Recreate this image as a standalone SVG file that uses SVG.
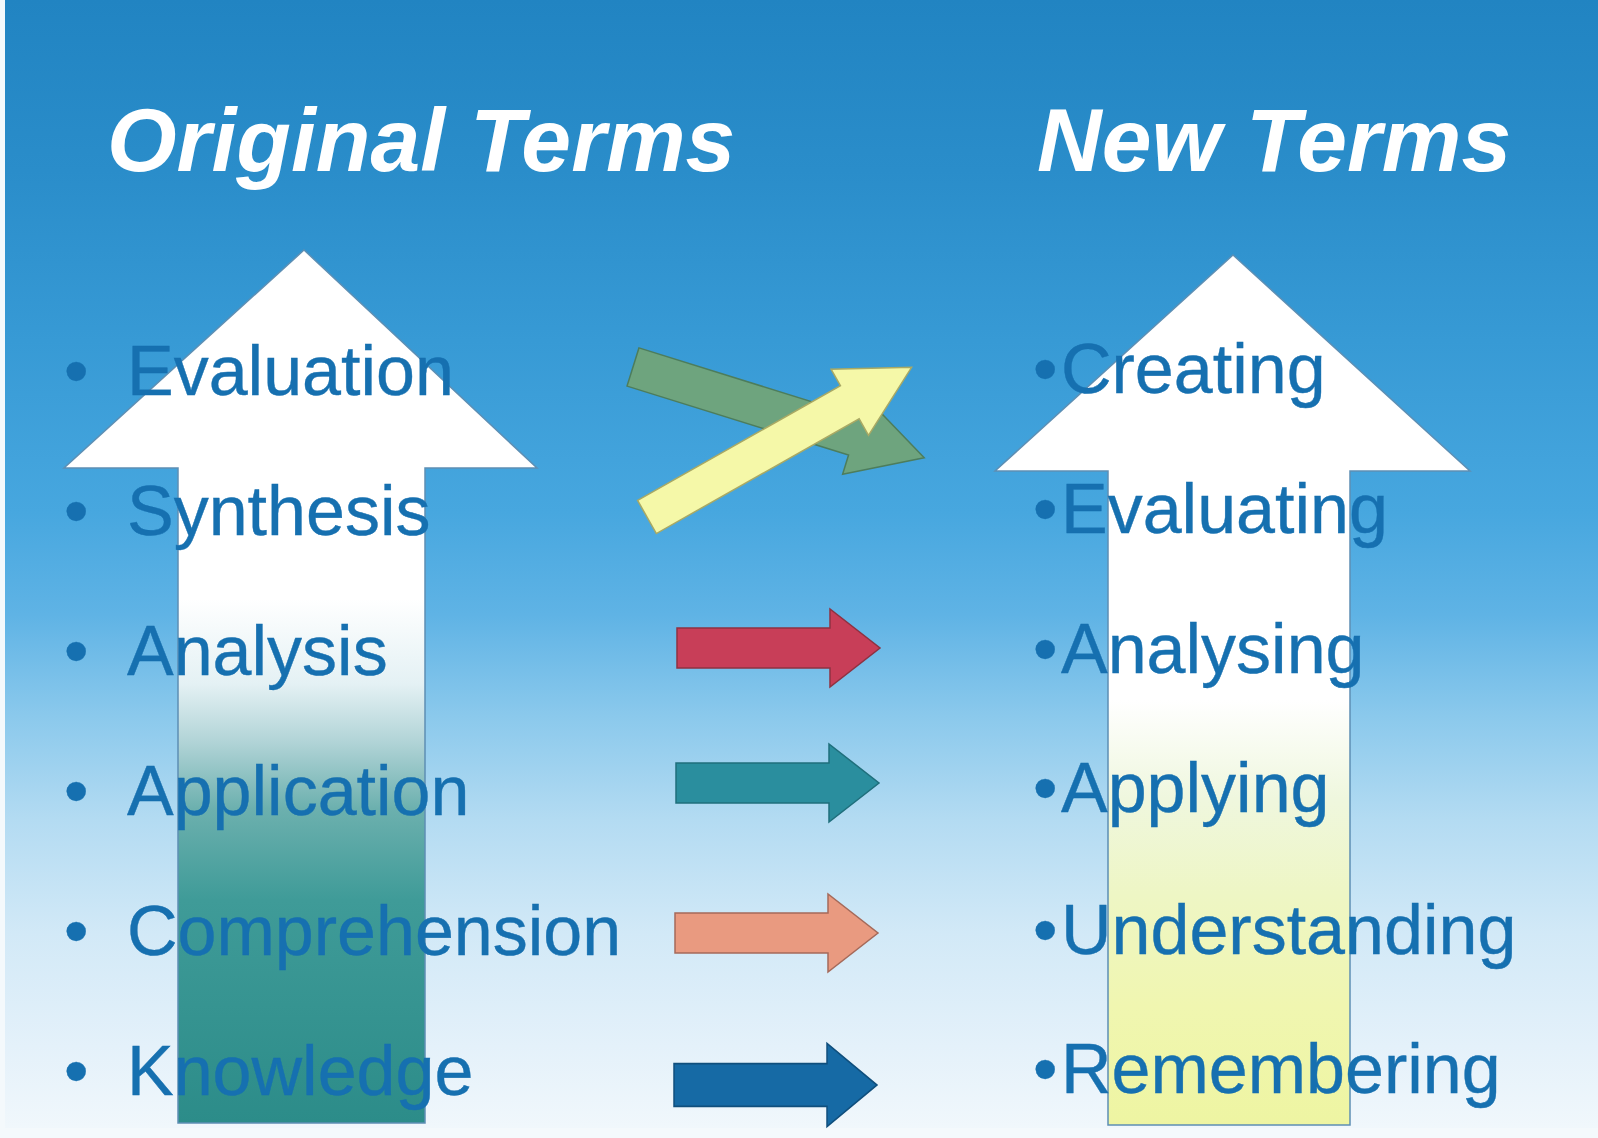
<svg xmlns="http://www.w3.org/2000/svg" width="1598" height="1138" viewBox="0 0 1598 1138">
  <defs>
    <linearGradient id="bg" x1="0" y1="0" x2="0" y2="1138" gradientUnits="userSpaceOnUse">
      <stop offset="0" stop-color="#2184c2"/>
      <stop offset="0.15" stop-color="#2a8dca"/>
      <stop offset="0.3" stop-color="#379ad5"/>
      <stop offset="0.45" stop-color="#47a7df"/>
      <stop offset="0.54" stop-color="#5fb3e5"/>
      <stop offset="0.63" stop-color="#8bc9ec"/>
      <stop offset="0.72" stop-color="#b3dbf2"/>
      <stop offset="0.82" stop-color="#d2e9f7"/>
      <stop offset="0.92" stop-color="#e4f1fa"/>
      <stop offset="1" stop-color="#f2f8fc"/>
    </linearGradient>
    <linearGradient id="leftShaft" x1="0" y1="468" x2="0" y2="1123" gradientUnits="userSpaceOnUse">
      <stop offset="0" stop-color="#ffffff"/>
      <stop offset="0.2" stop-color="#ffffff"/>
      <stop offset="0.33" stop-color="#e4f1f4"/>
      <stop offset="0.42" stop-color="#b0d3d6"/>
      <stop offset="0.52" stop-color="#6cb0ae"/>
      <stop offset="0.66" stop-color="#3f9b98"/>
      <stop offset="1" stop-color="#2c8c89"/>
    </linearGradient>
    <linearGradient id="rightShaft" x1="0" y1="471" x2="0" y2="1125" gradientUnits="userSpaceOnUse">
      <stop offset="0" stop-color="#ffffff"/>
      <stop offset="0.35" stop-color="#ffffff"/>
      <stop offset="0.5" stop-color="#eff7de"/>
      <stop offset="0.65" stop-color="#eef6c4"/>
      <stop offset="0.82" stop-color="#f0f6b0"/>
      <stop offset="1" stop-color="#eef5a2"/>
    </linearGradient>
    <path id="hArrow" d="M0,-20 H153 V-39 L203,0 L153,39 V20 H0 Z"/>
  </defs>
  <style>
    .title { font-family: "Liberation Sans", Arial, sans-serif; font-weight: bold; font-style: italic; font-size: 89.5px; fill: #ffffff; }
    .term { font-family: "Liberation Sans", Arial, sans-serif; font-size: 70px; fill: #1670b0; stroke: #1670b0; stroke-width: 0.4; }
    .big { stroke: #5d8fb4; stroke-width: 1.5; stroke-linejoin: miter; }
    .conn { stroke-width: 1.5; stroke-linejoin: miter; }
  </style>

  <g id="background">
    <rect x="0" y="0" width="1598" height="1138" fill="url(#bg)"/>
    <rect x="0" y="0" width="5" height="1138" fill="#f4f9fc"/>
    <rect x="0" y="1128" width="1598" height="10" fill="#f4f9fc"/>
  </g>

  <g id="left-big-arrow">
    <path class="big" fill="url(#leftShaft)" d="M304,250 L537,468 L425,468 L425,1123 L178,1123 L178,468 L64,468 Z"/>
  </g>
  <g id="right-big-arrow">
    <path class="big" fill="url(#rightShaft)" d="M1233,255 L1470,471 L1350,471 L1350,1125 L1108,1125 L1108,471 L995,471 Z"/>
  </g>

  <g id="titles">
    <text id="title-original" class="title" x="107" y="171">Original Terms</text>
    <text id="title-new" class="title" x="1037" y="171">New Terms</text>
  </g>

  <g id="connectors">
    <g id="arrow-green" transform="translate(633,367) rotate(17.3)">
      <path class="conn" fill="#6ea47e" stroke="#4d7d5c" d="M0,-20 H232 V-40 L305,0 L232,40 V20 H0 Z"/>
    </g>
    <g id="arrow-yellow" transform="translate(647,517) rotate(-29.5)">
      <path class="conn" fill="#f5f8a8" stroke="#a9a964" d="M0,-19 H233 V-38 L304,0 L233,38 V19 H0 Z"/>
    </g>
    <use id="arrow-red" href="#hArrow" class="conn" fill="#c83e58" stroke="#8e3242" transform="translate(677,648)"/>
    <use id="arrow-teal" href="#hArrow" class="conn" fill="#2a8e9e" stroke="#1f6f7c" transform="translate(676,783)"/>
    <use id="arrow-salmon" href="#hArrow" class="conn" fill="#e99a80" stroke="#a56a5a" transform="translate(675,933)"/>
    <use id="arrow-blue" href="#hArrow" class="conn" fill="#166aa5" stroke="#104f7d" transform="translate(674,1085) scale(1,1.07)"/>
  </g>

  <g id="original-terms">
    <g id="term-evaluation"><text class="term" y="395"><tspan x="64">•</tspan><tspan x="127">Evaluation</tspan></text></g>
    <g id="term-synthesis"><text class="term" y="535"><tspan x="64">•</tspan><tspan x="127">Synthesis</tspan></text></g>
    <g id="term-analysis"><text class="term" y="675"><tspan x="64">•</tspan><tspan x="127">Analysis</tspan></text></g>
    <g id="term-application"><text class="term" y="815"><tspan x="64">•</tspan><tspan x="127">Application</tspan></text></g>
    <g id="term-comprehension"><text class="term" y="955"><tspan x="64">•</tspan><tspan x="127">Comprehension</tspan></text></g>
    <g id="term-knowledge"><text class="term" y="1095"><tspan x="64">•</tspan><tspan x="127">Knowledge</tspan></text></g>
  </g>

  <g id="new-terms">
    <g id="term-creating"><text class="term" y="393"><tspan x="1033">•</tspan><tspan x="1061">Creating</tspan></text></g>
    <g id="term-evaluating"><text class="term" y="533"><tspan x="1033">•</tspan><tspan x="1061">Evaluating</tspan></text></g>
    <g id="term-analysing"><text class="term" y="673"><tspan x="1033">•</tspan><tspan x="1061">Analysing</tspan></text></g>
    <g id="term-applying"><text class="term" y="812"><tspan x="1033">•</tspan><tspan x="1061">Applying</tspan></text></g>
    <g id="term-understanding"><text class="term" y="954"><tspan x="1033">•</tspan><tspan x="1061">Understanding</tspan></text></g>
    <g id="term-remembering"><text class="term" y="1093"><tspan x="1033">•</tspan><tspan x="1061">Remembering</tspan></text></g>
  </g>
</svg>
